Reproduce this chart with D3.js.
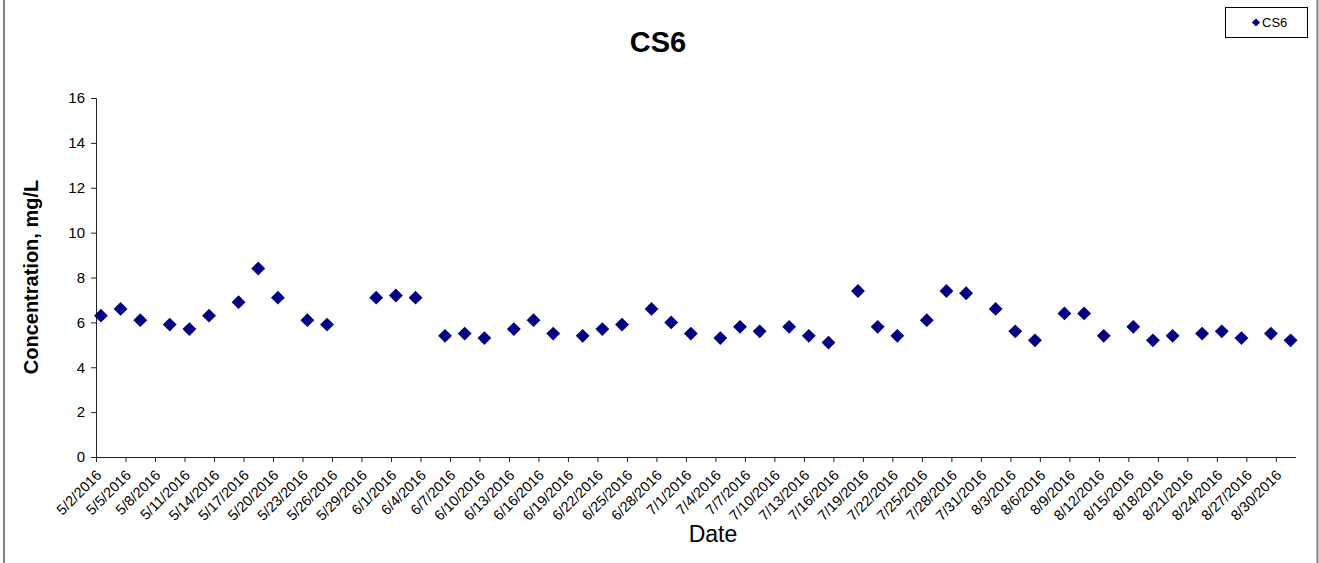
<!DOCTYPE html>
<html>
<head>
<meta charset="utf-8">
<script src="https://d3js.org/d3.v7.min.js"></script>
<style>
  html, body { margin: 0; padding: 0; background: #fff; }
  svg { display: block; font-family: "Liberation Sans", Arial, sans-serif; }
</style>
</head>
<body>
<svg id="chart" width="1319" height="563"></svg>
<script>
// CS6 sampling data
const dates = ['5/2/2016', '5/4/2016', '5/6/2016', '5/9/2016', '5/11/2016', '5/13/2016', '5/16/2016', '5/18/2016',
  '5/20/2016', '5/23/2016', '5/25/2016', '5/30/2016', '6/1/2016', '6/3/2016', '6/6/2016', '6/8/2016', '6/10/2016',
  '6/13/2016', '6/15/2016', '6/17/2016', '6/20/2016', '6/22/2016', '6/24/2016', '6/27/2016', '6/29/2016', '7/1/2016',
  '7/4/2016', '7/6/2016', '7/8/2016', '7/11/2016', '7/13/2016', '7/15/2016', '7/18/2016', '7/20/2016', '7/22/2016',
  '7/25/2016', '7/27/2016', '7/29/2016', '8/1/2016', '8/3/2016', '8/5/2016', '8/8/2016', '8/10/2016', '8/12/2016',
  '8/15/2016', '8/17/2016', '8/19/2016', '8/22/2016', '8/24/2016', '8/26/2016', '8/29/2016', '8/31/2016']
const cs6 = [6.3, 6.6, 6.1, 5.9, 5.7, 6.3, 6.9, 8.4, 7.1, 6.1, 5.9, 7.1, 7.2, 7.1, 5.4, 5.5, 5.3, 5.7, 6.1, 5.5,
  5.4, 5.7, 5.9, 6.6, 6.0, 5.5, 5.3, 5.8, 5.6, 5.8, 5.4, 5.1, 7.4, 5.8, 5.4, 6.1, 7.4, 7.3, 6.6, 5.6, 5.2, 6.4,
  6.4, 5.4, 5.8, 5.2, 5.4, 5.5, 5.6, 5.3, 5.5, 5.2]
const dateRange = ['5/2/2016', '9/1/2016']
const yTicks = [0, 2, 4, 6, 8, 10, 12, 14, 16]
const seriesName = 'CS6'

const parse = d3.timeParse('%m/%d/%Y')
const fmt = d3.timeFormat('%-m/%-d/%Y')
const data = dates.map((d, i) => ({ date: parse(d), value: cs6[i] }))

const svg = d3.select('#chart')
const navy = '#000080'
const fontFam = '"Liberation Sans", Arial, sans-serif'

// frame lines at the sides
svg.append('line').attr('x1', 4).attr('x2', 4).attr('y1', 0).attr('y2', 563).attr('stroke', '#808080').attr('stroke-width', 2)
svg.append('line').attr('x1', 1317.5).attr('x2', 1317.5).attr('y1', 0).attr('y2', 563).attr('stroke', '#808080').attr('stroke-width', 2)

const x = d3.scaleTime().domain(dateRange.map(parse)).range([96, 1295.5])
const y = d3.scaleLinear().domain([0, 16]).range([457, 98])

// y axis
const yAxis = svg.append('g').attr('transform', 'translate(96,0)')
  .call(d3.axisLeft(y).tickValues(yTicks).tickSize(5).tickPadding(6))
  .attr('font-size', 15).attr('font-family', fontFam)
yAxis.selectAll('text').attr('fill', '#000')
yAxis.selectAll('line, path').attr('stroke', '#222')

// x axis, one tick every 3 days
const xTicks = d3.timeDay.range(parse(dateRange[0]), parse(dateRange[1]), 3)
const xAxis = svg.append('g').attr('transform', 'translate(0,457)')
  .call(d3.axisBottom(x).tickValues(xTicks).tickSize(5).tickFormat(fmt).tickSizeOuter(0))
  .attr('font-size', 14.5).attr('font-family', fontFam)
xAxis.selectAll('line, path').attr('stroke', '#222')
xAxis.selectAll('text')
  .attr('fill', '#000')
  .attr('text-anchor', 'end')
  .attr('y', 0).attr('dy', 0)
  .attr('transform', 'translate(6,19) rotate(-45)')

// points sit in the middle of their day
svg.append('g').selectAll('path').data(data).enter().append('path')
  .attr('d', d3.symbol().type(d3.symbolSquare).size(96))
  .attr('transform', d => 'translate(' + x(d3.timeHour.offset(d.date, 12)) + ',' + y(d.value) + ') rotate(45)')
  .attr('fill', navy)

// titles
svg.append('text').attr('x', 658).attr('y', 52).attr('text-anchor', 'middle')
  .attr('font-size', 29).attr('font-weight', 'bold').text(seriesName)
svg.append('text').attr('x', 713).attr('y', 542).attr('text-anchor', 'middle')
  .attr('font-size', 23).text('Date')
svg.append('text').attr('transform', 'translate(38,277) rotate(-90)').attr('text-anchor', 'middle')
  .attr('font-size', 20).attr('font-weight', 'bold').text('Concentration, mg/L')

// legend
const lg = svg.append('g')
lg.append('rect').attr('x', 1225.5).attr('y', 7.5).attr('width', 82).attr('height', 30)
  .attr('fill', '#fff').attr('stroke', '#000').attr('stroke-width', 1)
lg.append('path').attr('d', d3.symbol().type(d3.symbolSquare).size(34))
  .attr('transform', 'translate(1256,22.5) rotate(45)').attr('fill', navy)
lg.append('text').attr('x', 1262).attr('y', 27).attr('font-size', 13).text(seriesName)
</script>
</body>
</html>
